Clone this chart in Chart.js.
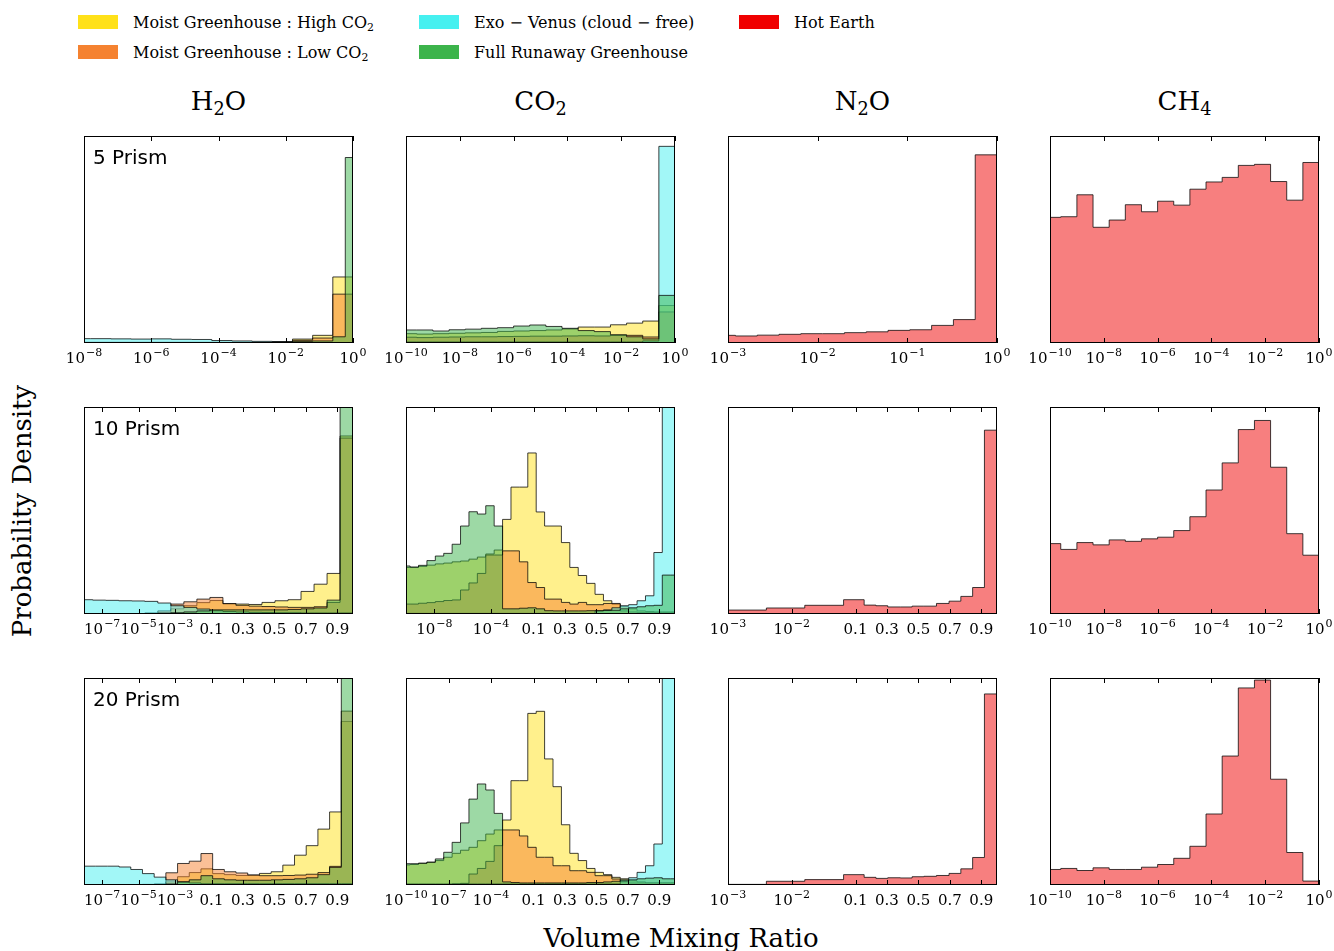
<!DOCTYPE html>
<html>
<head>
<meta charset="utf-8">
<script src="https://cdn.jsdelivr.net/npm/chart.js@4.4.1/dist/chart.umd.min.js"></script>
<style>
  body { margin: 0; background: #fff; width: 1334px; height: 951px; position: relative; overflow: hidden; font-family: "DejaVu Serif", serif; color: #000; }
  .abs { position: absolute; white-space: nowrap; }
  .center { transform: translate(-50%, -50%); }
  .patch { position: absolute; width: 40px; height: 14px; }
  .lgtext { position: absolute; font-size: 16px; line-height: 20px; white-space: nowrap; }
  sub { font-size: 68%; vertical-align: -0.28em; line-height: 0; }
  canvas { position: absolute; }
</style>
</head>
<body>
<script>
// ---- labels ----
const gases = ['H<sub>2</sub>O', 'CO<sub>2</sub>', 'N<sub>2</sub>O', 'CH<sub>4</sub>'];
const prisms = ['5 Prism', '10 Prism', '20 Prism'];
const legendNames = ['Moist Greenhouse : High CO<sub>2</sub>', 'Moist Greenhouse : Low CO<sub>2</sub>', 'Exo − Venus (cloud − free)', 'Full Runaway Greenhouse', 'Hot Earth'];
const colors = {
  yellow: [255, 225, 25],
  orange: [245, 130, 48],
  cyan: [70, 240, 240],
  green: [60, 180, 75],
  red: [240, 0, 0]
};

// ---- tick values ----
const ticksLog8 = [1e-8, 1e-6, 1e-4, 1e-2, 1];
const ticksLog10 = [1e-10, 1e-8, 1e-6, 1e-4, 1e-2, 1];
const ticksLog3 = [1e-3, 1e-2, 1e-1, 1];
const ticksMixH2O = [1e-7, 1e-5, 1e-3, 0.1, 0.3, 0.5, 0.7, 0.9];
const ticksMixCO2a = [1e-8, 1e-4, 0.1, 0.3, 0.5, 0.7, 0.9];
const ticksMixCO2b = [1e-10, 1e-7, 1e-4, 0.1, 0.3, 0.5, 0.7, 0.9];
const ticksMixN2O = [1e-3, 1e-2, 0.1, 0.3, 0.5, 0.7, 0.9];

// ---- bin edges ----
const h2oLogEdges = [-8.4, -7.8, -7.2, -6.6, -6.0, -5.4, -4.8, -4.2, -3.6, -3.0, -2.4, -1.8, -1.2, -0.6, -0.23, 0]; // log10 VMR
const n2oMixEdges = [0.001, 0.004, 0.016, 0.065, 0.155, 0.23, 0.305, 0.385, 0.46, 0.535, 0.615, 0.695, 0.77, 0.845, 0.92, 1.0];

// ---- 5 prism (heights in % of panel) ----
const h2o5Yellow = [0, 0, 0, 0, 0, 0, 0, 0, 0, 0.1, 0.5, 1.9, 3.7, 31.9, 31.9];
const h2o5Orange = [0, 0, 0, 0, 0, 0, 0, 0, 0, 0.1, 0.4, 1.3, 2.4, 23.6, 23.6];
const h2o5Cyan = [2.1, 2.1, 2.0, 1.9, 2.0, 1.8, 1.7, 1.2, 1.0, 0.8, 0.6, 0.3, 0.2, 0.1, 0.1];
const h2o5Green = [0.3, 0.3, 0.3, 0.3, 0.3, 0.3, 0.3, 0.3, 0.3, 0.3, 0.5, 0.8, 1.0, 3.0, 89.6];
const co25Yellow = [4.5, 4.3, 4.5, 4.7, 4.9, 5.1, 5.6, 5.8, 6.0, 6.3, 6.8, 7.7, 7.7, 8.8, 9.6, 10.6, 18.1];
const co25Orange = [2.8, 2.6, 2.8, 2.9, 3.0, 3.0, 3.1, 3.2, 3.3, 3.3, 3.4, 3.5, 3.4, 3.7, 3.7, 2.9, 15];
const co25Cyan = [0.5, 0.5, 0.5, 0.5, 0.5, 0.5, 0.5, 0.5, 0.5, 0.5, 0.5, 0.5, 0.5, 0.5, 0.5, 1.0, 95];
const co25Green = [6.3, 6.3, 5.8, 6.4, 6.7, 7.1, 7.4, 8.2, 8.7, 8.0, 7.1, 6.0, 5.5, 4.0, 3.0, 2.0, 23.0];
const n2o5Red = [3.7, 3.4, 3.8, 4.2, 4.5, 4.5, 5.0, 5.4, 6.1, 6.4, 8.5, 11.3, 90.9];
const ch45Red = [60.7, 61.0, 71.6, 55.9, 59.4, 66.8, 63.4, 68.5, 66.6, 74.3, 77.8, 80.0, 85.8, 86.3, 78.0, 69.0, 87.2];

// ---- 10 prism ----
const h2o10Yellow = [0.1, 0.1, 0.1, 0.1, 0.1, 0.1, 0.5, 2.5, 4.0, 5.5, 6.5, 5.0, 4.8, 4.6, 5.6, 6.4, 6.9, 10.9, 14.4, 19.6, 86];
const h2o10Orange = [0.2, 0.2, 0.2, 0.2, 0.2, 0.5, 1.5, 4.8, 5.9, 7.2, 8.0, 5.0, 4.2, 3.8, 3.6, 3.4, 3.2, 3.2, 3.5, 5.6, 85];
const h2o10Cyan = [6.9, 6.7, 6.6, 6.4, 6.3, 6.1, 5.3, 4.0, 3.2, 2.4, 1.6, 1.2, 1.0, 0.8, 0.7, 0.6, 0.6, 0.5, 0.5, 0.5, 0.5];
const h2o10Green = [0.2, 0.2, 0.2, 0.2, 0.2, 0.2, 0.4, 0.6, 1.0, 1.5, 2.0, 2.0, 2.0, 2.0, 2.0, 2.0, 2.2, 2.5, 2.9, 6.7, 125];
const co210Yellow = [22.5, 22.5, 23.0, 23.6, 24.2, 24.6, 25.2, 25.6, 26.5, 27.5, 29.0, 30.9, 45.7, 61.3, 61.3, 77.8, 49.3, 42.5, 42.5, 34.5, 22.5, 18.6, 14.8, 9.5, 6.4, 4.8, 3.5, 2.5, 1.5, 1.2, 1.0, 1.0, 1.0];
const co210Orange = [4.8, 4.8, 5.2, 5.5, 6.0, 6.5, 6.8, 11.6, 15.0, 19.6, 28.5, 28.5, 30.5, 30.5, 25.2, 15.2, 12.8, 7.2, 7.2, 5.6, 4.8, 5.6, 4.5, 4.5, 5.1, 5.1, 1.5, 1.0, 0.8, 0.8, 0.8, 0.8, 0.8];
const co210Cyan = [0.3, 0.3, 0.3, 0.3, 0.3, 0.3, 0.3, 0.3, 0.3, 0.3, 0.3, 0.3, 0.3, 0.3, 0.3, 0.3, 0.3, 0.3, 0.3, 0.3, 0.3, 0.3, 0.3, 1.5, 2.0, 3.0, 4.0, 4.5, 6.4, 8.8, 29.7, 110, 110];
const co210Green = [23.2, 22.7, 23.5, 25.8, 28.0, 29.3, 33.7, 42.5, 49.4, 48.3, 52.3, 42.5, 2.5, 2.5, 2.8, 3.0, 2.5, 1.6, 1.5, 1.5, 1.5, 1.5, 1.6, 1.6, 1.7, 1.8, 2.5, 3.0, 3.5, 4.0, 4.2, 18.8, 18.8];
const n2o10Red = [1.9, 2.9, 4.2, 6.9, 4.3, 4.0, 3.4, 3.4, 3.8, 3.8, 5.1, 6.2, 8.5, 12.8, 88.8];
const ch410Red = [34.0, 31.2, 34.5, 33.4, 35.8, 35.1, 36.3, 37.1, 40.3, 47.0, 59.9, 73.0, 89.1, 93.5, 70.9, 38.8, 28.4];

// ---- 20 prism ----
const h2o20Yellow = [0, 0, 0, 0, 0, 0, 0.3, 1.5, 4.0, 6.0, 7.8, 5.5, 5.0, 4.6, 4.8, 5.6, 6.4, 9.6, 14.4, 19.0, 27.0, 35.3, 79];
const h2o20Orange = [0.2, 0.2, 0.2, 0.2, 0.2, 0.3, 0.5, 5.9, 10.4, 11.5, 15.2, 7.5, 6.4, 5.8, 4.8, 4.5, 4.5, 4.6, 4.8, 5.2, 6.0, 9.0, 84];
const h2o20Cyan = [9.1, 9.1, 9.1, 8.7, 7.5, 5.5, 3.8, 2.5, 1.5, 1.0, 0.6, 0.6, 0.6, 0.6, 0.6, 0.6, 0.6, 0.6, 0.6, 0.6, 0.6, 0.6, 0.6];
const h2o20Green = [0.2, 0.2, 0.2, 0.2, 0.2, 0.2, 0.2, 0.5, 1.5, 2.5, 4.5, 3.0, 2.5, 2.3, 2.3, 2.3, 2.5, 2.7, 3.0, 3.5, 5.0, 8.5, 110];
const co220Yellow = [9.7, 9.9, 10.5, 11.0, 11.8, 13.4, 15.3, 16.8, 18.2, 21.4, 24.6, 26.6, 31.4, 50.4, 50.4, 82.9, 83.9, 60.9, 47.5, 29.1, 15.3, 11.8, 8.0, 6.1, 5.0, 3.7, 3.0, 2.0, 1.5, 1.0, 1.0, 1.0, 1.0];
const co220Orange = [0, 0, 0, 0, 0, 0, 0.5, 0.8, 5.3, 8.0, 11.4, 19.0, 26.6, 26.6, 23.7, 18.2, 13.4, 13.4, 9.3, 9.3, 6.9, 6.9, 6.1, 4.5, 4.5, 2.9, 1.5, 1.0, 1.0, 1.0, 1.0, 1.0, 1.0];
const co220Cyan = [0.5, 0.5, 0.5, 0.5, 0.5, 0.5, 0.5, 0.5, 0.5, 0.5, 0.5, 0.5, 0.5, 0.5, 0.5, 0.5, 0.5, 0.5, 0.5, 0.5, 0.5, 0.5, 0.5, 0.5, 0.5, 0.5, 2.5, 3.5, 6.1, 9.3, 19.8, 110, 110];
const co220Green = [10.3, 10.3, 10.5, 11.0, 12.6, 15.8, 20.6, 30.0, 41.5, 48.8, 45.9, 34.6, 1.5, 1.2, 1.0, 1.0, 1.0, 1.0, 1.0, 1.0, 1.0, 1.0, 1.2, 1.2, 1.5, 1.8, 2.0, 2.5, 3.0, 3.3, 3.5, 3.0, 3.0];
const n2o20Red = [0.3, 1.8, 2.6, 5.0, 3.7, 3.2, 3.5, 3.4, 4.0, 4.2, 4.6, 5.6, 7.8, 13.3, 92.3];
const ch420Red = [7.5, 8.0, 7.0, 8.3, 7.5, 7.5, 8.6, 9.9, 12.9, 18.7, 34.3, 62.3, 95.2, 99.0, 51.1, 15.7, 1.9];

// ---- layout ----
const PANEL_LEFT = [84, 406, 728, 1050];
const PANEL_TOP = [136, 407, 678];
const PANEL_W = 269, PANEL_H = 207;
const PAD_X = 28, PAD_TOP = 8, AXIS_H = 32;
const MIX_SPLIT = 0.474; // share of the axis used by the log part (below 0.1)

// axis coordinate in [0,1] for a mixing ratio
function axisPos(ax, v) {
  const lv = Math.log10(v);
  if (ax.kind === 'log') return (lv - ax.lo) / (ax.hi - ax.lo);
  if (v < 0.1) return MIX_SPLIT * (lv - ax.lo) / (-1 - ax.lo);
  return MIX_SPLIT + (1 - MIX_SPLIT) * (v - 0.1) / 0.9;
}
function logEdges(ax, a, b, n) {
  const out = [];
  for (let i = 0; i <= n; i++) out.push(axisPos(ax, Math.pow(10, a + (b - a) * i / n)));
  return out;
}
function evenEdges(start, width, n) {
  const out = [];
  for (let i = 0; i <= n; i++) out.push(start + width * i);
  return out;
}
// [base, exponent] for a tick
function tickLabel(ax, v) {
  if (ax.kind === 'mix' && v >= 0.0999) return [String(v), ''];
  const e = Math.round(Math.log10(v));
  return ['10', String(e).replace('-', '−')];
}

const axH2OLog = { kind: 'log', lo: -8, hi: 0 };
const axCO2Log = { kind: 'log', lo: -10, hi: 0 };
const axN2OLog = { kind: 'log', lo: -3, hi: 0 };
const axH2OMix = { kind: 'mix', lo: -8 };
const axCO2Mix = { kind: 'mix', lo: -10 };
const axN2OMix = { kind: 'mix', lo: -3 };

const panels = [
  { row: 0, col: 0, ax: axH2OLog, ticks: ticksLog8, edges: h2oLogEdges.map(e => axisPos(axH2OLog, Math.pow(10, e))),
    series: [['yellow', h2o5Yellow], ['orange', h2o5Orange], ['cyan', h2o5Cyan], ['green', h2o5Green]] },
  { row: 0, col: 1, ax: axCO2Log, ticks: ticksLog10, edges: logEdges(axCO2Log, -10.2, 0, 17),
    series: [['yellow', co25Yellow], ['orange', co25Orange], ['cyan', co25Cyan], ['green', co25Green]] },
  { row: 0, col: 2, ax: axN2OLog, ticks: ticksLog3, edges: logEdges(axN2OLog, -3.16, 0, 13), series: [['red', n2o5Red]] },
  { row: 0, col: 3, ax: axCO2Log, ticks: ticksLog10, edges: logEdges(axCO2Log, -10.2, 0, 17), series: [['red', ch45Red]] },

  { row: 1, col: 0, ax: axH2OMix, ticks: ticksMixH2O, edges: evenEdges(-0.016, 0.0484, 21),
    series: [['yellow', h2o10Yellow], ['orange', h2o10Orange], ['cyan', h2o10Cyan], ['green', h2o10Green]] },
  { row: 1, col: 1, ax: axCO2Mix, ticks: ticksMixCO2a, edges: evenEdges(-0.016, 1 / 32, 33),
    series: [['yellow', co210Yellow], ['orange', co210Orange], ['cyan', co210Cyan], ['green', co210Green]] },
  { row: 1, col: 2, ax: axN2OMix, ticks: ticksMixN2O, edges: n2oMixEdges.map(v => axisPos(axN2OMix, v)), series: [['red', n2o10Red]] },
  { row: 1, col: 3, ax: axCO2Log, ticks: ticksLog10, edges: logEdges(axCO2Log, -10.2, 0, 17), series: [['red', ch410Red]] },

  { row: 2, col: 0, ax: axH2OMix, ticks: ticksMixH2O, edges: evenEdges(0, 1 / 23, 23),
    series: [['yellow', h2o20Yellow], ['orange', h2o20Orange], ['cyan', h2o20Cyan], ['green', h2o20Green]] },
  { row: 2, col: 1, ax: axCO2Mix, ticks: ticksMixCO2b, edges: evenEdges(-0.016, 1 / 32, 33),
    series: [['yellow', co220Yellow], ['orange', co220Orange], ['cyan', co220Cyan], ['green', co220Green]] },
  { row: 2, col: 2, ax: axN2OMix, ticks: ticksMixN2O, edges: n2oMixEdges.map(v => axisPos(axN2OMix, v)), series: [['red', n2o20Red]] },
  { row: 2, col: 3, ax: axCO2Log, ticks: ticksLog10, edges: logEdges(axCO2Log, -10.2, 0, 17), series: [['red', ch420Red]] }
];

// step outline of a histogram, closed down to zero at both ends
function stepData(edges, h) {
  const pts = [{ x: edges[0], y: 0 }];
  h.forEach((v, i) => pts.push({ x: edges[i], y: v }));
  pts.push({ x: edges[h.length], y: h[h.length - 1] });
  pts.push({ x: edges[h.length], y: 0 });
  return pts;
}
const rgba = (c, a) => `rgba(${c[0]},${c[1]},${c[2]},${a})`;

// box, inward ticks on top and bottom, and tick labels with raised exponents
const framePlugin = {
  id: 'frame',
  afterDatasetsDraw(chart, args, opts) {
    const { ctx, chartArea: a } = chart;
    const x = chart.scales.x;
    ctx.save();
    ctx.strokeStyle = '#000';
    ctx.lineWidth = 1;
    ctx.strokeRect(a.left + 0.5, a.top + 0.5, a.right - a.left - 1, a.bottom - a.top - 1);
    ctx.beginPath();
    x.ticks.forEach(t => {
      const px = Math.round(x.getPixelForValue(t.value)) + 0.5;
      ctx.moveTo(px, a.top); ctx.lineTo(px, a.top + 5);
      ctx.moveTo(px, a.bottom); ctx.lineTo(px, a.bottom - 5);
    });
    ctx.stroke();

    ctx.fillStyle = '#000';
    ctx.textAlign = 'left';
    ctx.textBaseline = 'alphabetic';
    const y = a.bottom + 20;
    x.ticks.forEach((t, i) => {
      const [base, exp] = opts.labels[i];
      ctx.font = '15px "DejaVu Serif"';
      const wb = ctx.measureText(base).width;
      ctx.font = '11px "DejaVu Serif"';
      const we = exp ? ctx.measureText(exp).width + 1 : 0;
      const x0 = x.getPixelForValue(t.value) - (wb + we) / 2;
      ctx.font = '15px "DejaVu Serif"';
      ctx.fillText(base, x0, y);
      if (exp) {
        ctx.font = '11px "DejaVu Serif"';
        ctx.fillText(exp, x0 + wb + 1, y - 7);
      }
    });
    ctx.restore();
  }
};

function addText(html, x, y, style, centered) {
  const d = document.createElement('div');
  d.className = 'abs' + (centered ? ' center' : '');
  d.style.left = x + 'px';
  d.style.top = y + 'px';
  d.style.cssText += style;
  d.innerHTML = html;
  document.body.appendChild(d);
  return d;
}

panels.forEach(p => {
  const cv = document.createElement('canvas');
  cv.width = PANEL_W + 2 * PAD_X;
  cv.height = PANEL_H + PAD_TOP + AXIS_H;
  cv.style.left = (PANEL_LEFT[p.col] - PAD_X) + 'px';
  cv.style.top = (PANEL_TOP[p.row] - PAD_TOP) + 'px';
  document.body.appendChild(cv);

  const tickPos = p.ticks.map(v => axisPos(p.ax, v));
  const labels = p.ticks.map(v => tickLabel(p.ax, v));
  const datasets = p.series.map(([key, vals], i) => ({
    data: stepData(p.edges, vals),
    stepped: true,
    fill: 'origin',
    backgroundColor: rgba(colors[key], 0.5),
    borderColor: 'rgba(0,0,0,0.75)',
    borderWidth: 1,
    pointRadius: 0,
    order: -i
  }));

  new Chart(cv, {
    type: 'line',
    data: { datasets },
    options: {
      responsive: false,
      animation: false,
      devicePixelRatio: 1,
      layout: { padding: { left: PAD_X, right: PAD_X, top: PAD_TOP, bottom: 0 } },
      plugins: { legend: { display: false }, tooltip: { enabled: false }, frame: { labels } },
      scales: {
        x: {
          type: 'linear', min: 0, max: 1,
          grid: { display: false, drawTicks: false },
          border: { display: false },
          afterBuildTicks: s => { s.ticks = tickPos.map(v => ({ value: v })); },
          afterFit: s => { s.height = AXIS_H; },
          ticks: { display: false, autoSkip: false }
        },
        y: { display: false, min: 0, max: 100 }
      }
    },
    plugins: [framePlugin]
  });
});

// column titles and panel tags
gases.forEach((g, c) => addText(g, PANEL_LEFT[c] + PANEL_W / 2, 101, 'font-size:26px;', true));
prisms.forEach((t, r) => addText(t, 93, PANEL_TOP[r] + 10, 'font-family:"DejaVu Sans",sans-serif;font-size:20px;line-height:22px;', false));

// axis titles
addText('Probability Density', 22, 511, 'font-size:26px;transform:translate(-50%,-50%) rotate(-90deg);', false);
addText('Volume Mixing Ratio', 681, 938, 'font-size:26px;', true);

// legend
const legendSlots = [[78, 22, 'yellow'], [78, 52, 'orange'], [419, 22, 'cyan'], [419, 52, 'green'], [739, 22, 'red']];
legendSlots.forEach(([x, y, key], i) => {
  const pt = document.createElement('div');
  pt.className = 'patch';
  pt.style.left = x + 'px';
  pt.style.top = (y - 7) + 'px';
  pt.style.background = rgba(colors[key], 1);
  document.body.appendChild(pt);
  const t = document.createElement('div');
  t.className = 'lgtext';
  t.style.left = (x + 55) + 'px';
  t.style.top = (y - 9) + 'px';
  t.innerHTML = legendNames[i];
  document.body.appendChild(t);
});
</script>
</body>
</html>
